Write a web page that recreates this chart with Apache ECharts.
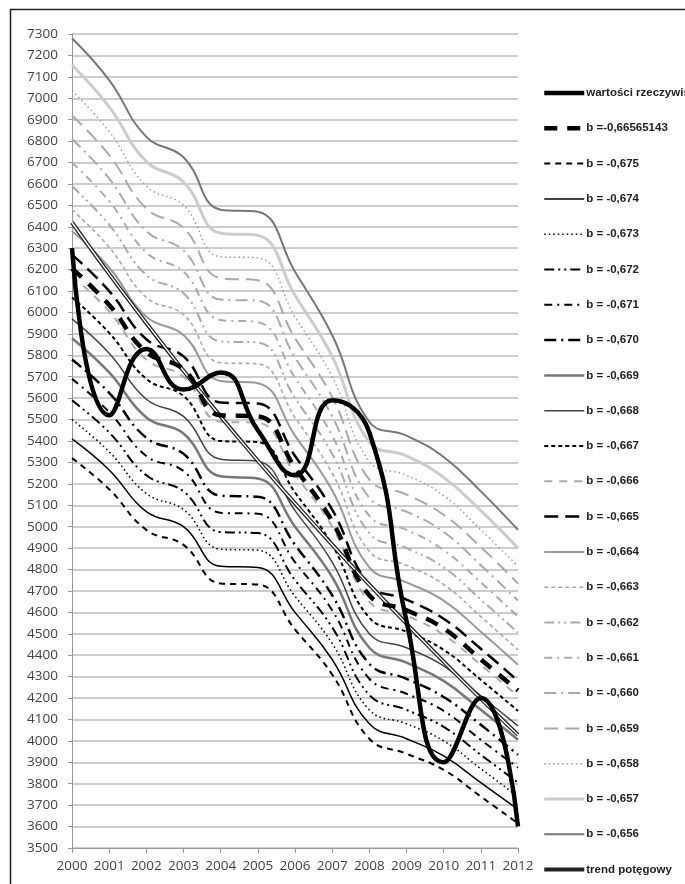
<!DOCTYPE html>
<html>
<head>
<meta charset="utf-8">
<script src="https://cdn.jsdelivr.net/npm/echarts@6/dist/echarts.min.js"></script>
<style>
html,body{margin:0;padding:0;background:#fff;}
#chart{width:685px;height:884px;}
</style>
</head>
<body>
<div id="chart"></div>
<script>
const years = ['2000','2001','2002','2003','2004','2005','2006','2007','2008','2009','2010','2011','2012'];
const yTicks = {min: 3500, max: 7300, step: 100};

const actual   = [6300,5520,5830,5640,5720,5450,5240,5590,5440,4560,3900,4200,3600];
const bFitted  = [6205,6035,5815,5735,5520,5515,5275,5025,4680,4610,4525,4380,4235];
const b675 = [5320,5175,4985,4915,4735,4730,4520,4310,4010,3940,3865,3740,3615];
const b674 = [5410,5265,5070,5000,4815,4810,4600,4380,4080,4010,3930,3805,3680];
const b673 = [5500,5350,5155,5080,4895,4890,4675,4455,4145,4080,4000,3870,3740];
const b672 = [5590,5440,5240,5165,4975,4970,4750,4530,4215,4145,4065,3935,3805];
const b671 = [5690,5535,5330,5260,5065,5060,4835,4610,4290,4220,4140,4005,3875];
const b670 = [5780,5625,5415,5340,5145,5140,4915,4680,4360,4290,4205,4075,3935];
const b669 = [5880,5720,5510,5435,5235,5225,5000,4765,4435,4365,4280,4145,4005];
const b668 = [5970,5810,5595,5515,5315,5305,5075,4835,4500,4435,4350,4210,4070];
const b667 = [6070,5905,5690,5610,5400,5395,5160,4915,4575,4510,4425,4285,4140];
const b666 = [6170,6005,5780,5700,5490,5485,5245,5000,4650,4585,4495,4355,4210];
const b665 = [6270,6100,5875,5795,5580,5575,5330,5080,4730,4660,4570,4430,4280];
const b664 = [6380,6210,5980,5895,5680,5670,5425,5170,4810,4740,4655,4510,4355];
const b663 = [6480,6305,6070,5990,5765,5760,5510,5250,4885,4820,4730,4580,4425];
const b662 = [6590,6410,6175,6090,5865,5860,5600,5340,4970,4900,4810,4660,4505];
const b661 = [6700,6520,6280,6190,5965,5955,5695,5425,5050,4985,4890,4740,4580];
const b660 = [6810,6625,6380,6290,6060,6055,5790,5515,5135,5070,4975,4820,4655];
const b659 = [6920,6735,6485,6395,6160,6150,5880,5605,5220,5150,5055,4905,4735];
const b658 = [7035,6845,6590,6500,6260,6255,5980,5700,5305,5240,5145,4985,4815];
const b657 = [7155,6960,6705,6610,6370,6360,6080,5795,5395,5330,5230,5075,4900];
const b656 = [7280,7085,6820,6725,6480,6470,6190,5895,5490,5425,5325,5165,4985];
const trend = [6420,6180,5950,5728,5514,5308,5109,4916,4729,4547,4370,4197,4028];

const legendNames = ['wartości rzeczywiste','b =-0,66565143','b = -0,675','b = -0,674','b = -0,673','b = -0,672','b = -0,671','b = -0,670','b = -0,669','b = -0,668','b = -0,667','b = -0,666','b = -0,665','b = -0,664','b = -0,663','b = -0,662','b = -0,661','b = -0,660','b = -0,659','b = -0,658','b = -0,657','b = -0,656','trend potęgowy'];

const LDD = [10,4,2,4,2,4];   // long dash dot dot
const DD  = [8,5,2,5];        // dash dot
const LD  = [12,5,2,5];       // long dash dot
const bSeries = [
  [legendNames[2],  b675, '#000', 2,   [6,5]],
  [legendNames[3],  b674, '#000', 1.5, 'solid'],
  [legendNames[4],  b673, '#000', 1.6, [1.5,3]],
  [legendNames[5],  b672, '#000', 2,   LDD],
  [legendNames[6],  b671, '#000', 2,   DD],
  [legendNames[7],  b670, '#000', 2.5, LD],
  [legendNames[8],  b669, '#777', 2.5, 'solid'],
  [legendNames[9],  b668, '#444', 1.5, 'solid'],
  [legendNames[10], b667, '#000', 2,   [4,3]],
  [legendNames[11], b666, '#aaa', 2,   [8,7]],
  [legendNames[12], b665, '#000', 2.5, [14,7]],
  [legendNames[13], b664, '#999', 2,   'solid'],
  [legendNames[14], b663, '#aaa', 1.6, [4,3]],
  [legendNames[15], b662, '#aaa', 2,   LDD],
  [legendNames[16], b661, '#aaa', 2,   DD],
  [legendNames[17], b660, '#aaa', 2,   LD],
  [legendNames[18], b659, '#aaa', 2,   [14,7]],
  [legendNames[19], b658, '#999', 1.4, [1.5,3]],
  [legendNames[20], b657, '#ccc', 3,   'solid'],
  [legendNames[21], b656, '#777', 2,   'solid']
];

const series = [];
const legendWidth = {};
bSeries.forEach(function(s){
  legendWidth[s[0]] = s[3];
  series.push({
    name: s[0], type: 'line', data: s[1], smooth: 0.45, symbol: 'none',
    lineStyle: {color: s[2], width: s[3], type: s[4]}, itemStyle: {color: s[2]},
    emphasis: {disabled: true}, z: 2
  });
});
series.push({
  name: 'trend potęgowy', type: 'line', data: trend, smooth: 0.45, symbol: 'none',
  lineStyle: {color: '#222', width: 4}, itemStyle: {color: '#222'}, z: 3
});
series.push({
  name: 'trendInner', type: 'line', data: trend, smooth: 0.45, symbol: 'none',
  lineStyle: {color: '#fff', width: 1.4}, itemStyle: {color: '#fff'}, z: 3
});
series.push({
  name: legendNames[1], type: 'line', data: bFitted, smooth: 0.45, symbol: 'none',
  lineStyle: {color: '#000', width: 4.5, type: [13,10]}, itemStyle: {color: '#000'}, z: 4
});
series.push({
  name: legendNames[0], type: 'line', data: actual, smooth: 0.5, symbol: 'none',
  lineStyle: {color: '#000', width: 4.5}, itemStyle: {color: '#000'}, z: 5
});
legendWidth['trend potęgowy'] = 4;
legendWidth[legendNames[1]] = 4.5;
legendWidth[legendNames[0]] = 4.5;

const legendData = legendNames.map(function(n){
  return {name: n, lineStyle: {width: legendWidth[n]}};
});

const chart = echarts.init(document.getElementById('chart'), null, {renderer: 'canvas'});
chart.setOption({
  backgroundColor: '#fff',
  animation: false,
  graphic: [{
    type: 'rect', shape: {x: 10.5, y: 9.5, width: 700, height: 900},
    style: {fill: 'none', stroke: '#222', lineWidth: 1.5}, silent: true
  }],
  grid: {left: 72, right: 167, top: 34, bottom: 36, containLabel: false},
  legend: {
    data: legendData, orient: 'vertical', left: 537, top: 82,
    itemWidth: 40, itemHeight: 14, itemGap: 23.3,
    itemStyle: {color: 'rgba(0,0,0,0)', borderColor: 'rgba(0,0,0,0)', borderWidth: 0},
    textStyle: {fontFamily: '"Liberation Sans Narrow","Liberation Sans",Arial', fontSize: 11.5, fontWeight: 'bold', color: '#222', padding: [0,0,0,-3]},
    selectedMode: false
  },
  xAxis: {
    type: 'category', data: years, boundaryGap: false,
    axisLine: {lineStyle: {color: '#999', width: 1}},
    axisTick: {show: true, alignWithLabel: true, interval: 0, length: 5, lineStyle: {color: '#999'}},
    axisLabel: {color: '#444', fontSize: 13.5, fontFamily: '"Open Sans",Arial', margin: 11, interval: 0},
    splitLine: {show: false}
  },
  yAxis: {
    type: 'value', min: yTicks.min, max: yTicks.max, interval: yTicks.step,
    axisLine: {show: true, lineStyle: {color: '#999', width: 1}},
    axisTick: {show: true, length: 4, lineStyle: {color: '#999'}},
    axisLabel: {color: '#444', fontSize: 13.5, fontFamily: '"Open Sans",Arial', margin: 14,
      formatter: function(v){ return String(v); }},
    splitLine: {show: true, lineStyle: {color: '#bdbdbd', width: 1.5}}
  },
  series: series
});
</script>
</body>
</html>
